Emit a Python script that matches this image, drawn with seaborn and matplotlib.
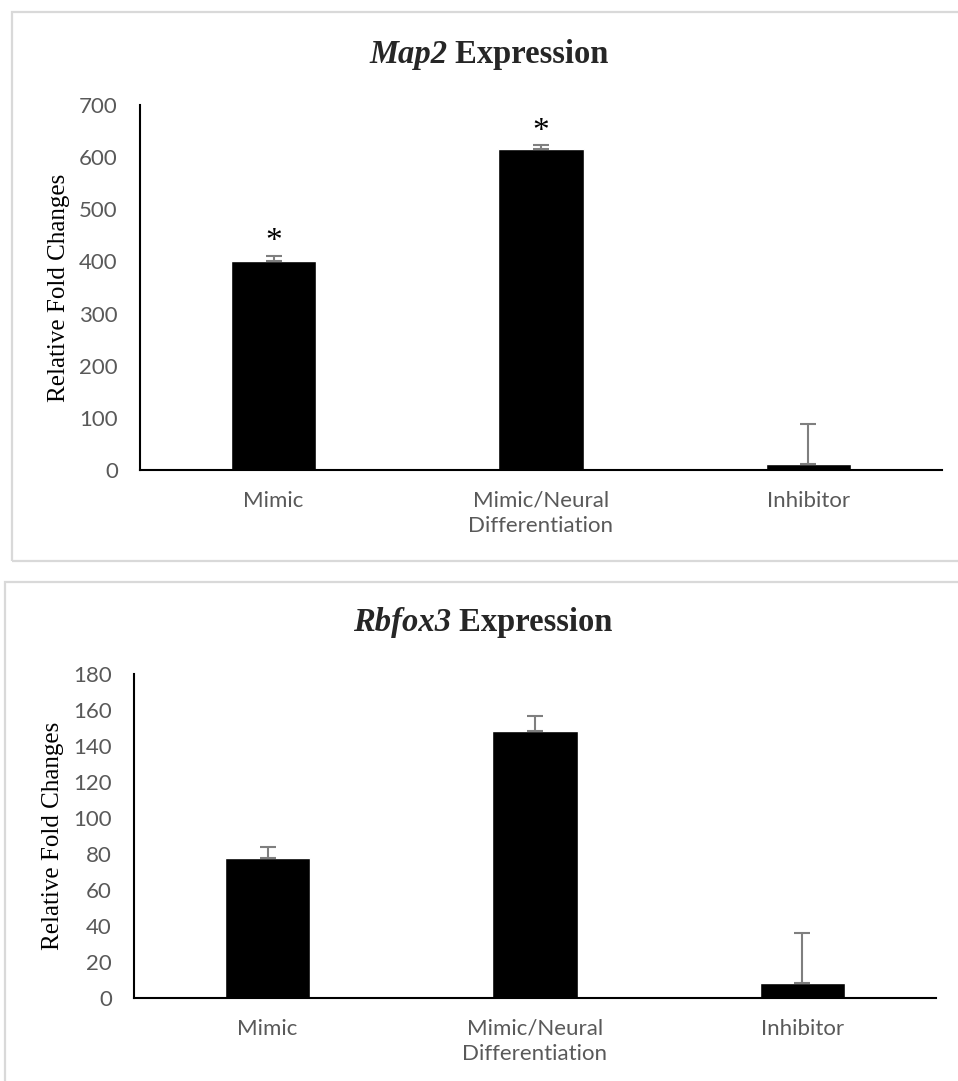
import numpy as np
import pandas as pd
import matplotlib
matplotlib.use("Agg")
import matplotlib.pyplot as plt
from matplotlib.patches import Rectangle
import seaborn as sns

# ---- data ----
categories = ["Mimic", "Mimic/Neural\nDifferentiation", "Inhibitor"]

map2_mean = [401, 616, 12]
map2_err = [10, 7, 77]
map2_sig = [True, True, False]
map2_ticks = [0, 100, 200, 300, 400, 500, 600, 700]

rbfox3_mean = [78, 148.5, 8.3]
rbfox3_err = [6, 8, 28]
rbfox3_sig = [False, False, False]
rbfox3_ticks = [0, 20, 40, 60, 80, 100, 120, 140, 160, 180]

sns.set_theme(style="white")
plt.rcParams["font.family"] = ["Lato", "DejaVu Sans"]

W, H, DPI = 958, 1081, 100
fig = plt.figure(figsize=(W / DPI, H / DPI), dpi=DPI)
fig.patch.set_facecolor("white")

SERIF = "Liberation Serif"
TICK_COLOR = "#595959"
ERR_COLOR = "#7f7f7f"


def px_box(left, top, right, bottom):
    return [left / W, 1 - bottom / H, (right - left) / W, (bottom - top) / H]


def draw_panel(rect_px, ax_px, gene, means, errs, sig, ticks, title_xy, ylabel_x):
    # chart-area frame
    l, t, r, b = rect_px
    fig.add_artist(Rectangle((l / W, 1 - b / H), (r - l) / W, (b - t) / H,
                             transform=fig.transFigure, fill=False,
                             edgecolor="#d9d9d9", linewidth=1.6))

    ax = fig.add_axes(px_box(*ax_px))
    df = pd.DataFrame({"group": categories, "value": means})
    sns.barplot(data=df, x="group", y="value", color="black", saturation=1,
                width=0.32, errorbar=None, ax=ax)
    xs = np.arange(len(categories))
    ax.errorbar(xs, means, yerr=[np.zeros(len(errs)), errs], fmt="none",
                ecolor=ERR_COLOR, elinewidth=1.5, capsize=5.5, capthick=1.5,
                zorder=3)
    for xi, m, e, s in zip(xs, means, errs, sig):
        if s:
            ax.annotate("*", (xi, m + e), xytext=(0, 10), textcoords="offset points",
                        ha="center", va="center", fontsize=24, family=SERIF,
                        color="black")

    ax.set_ylim(ticks[0], ticks[-1])
    ax.set_yticks(ticks)
    ax.set_xlim(-0.5, len(categories) - 0.5)
    for side in ("top", "right"):
        ax.spines[side].set_visible(False)
    for side in ("left", "bottom"):
        ax.spines[side].set_color("black")
        ax.spines[side].set_linewidth(1.5)
    ax.tick_params(axis="both", length=0, labelsize=16, labelcolor=TICK_COLOR)
    ax.tick_params(axis="y", pad=16)
    ax.tick_params(axis="x", pad=15)
    for lab in ax.get_xticklabels():
        lab.set_linespacing(1.3)
    ax.set_xlabel("")
    ax.set_ylabel("")
    ax.grid(False)

    fig.text(ylabel_x / W, 1 - (ax_px[1] + ax_px[3]) / 2 / H, "Relative Fold Changes",
             rotation=90, ha="center", va="center", family=SERIF, fontsize=18,
             color="black")

    # title: italic gene symbol followed by upright word
    cx, cy = title_xy
    t1 = fig.text(0, 1 - cy / H, gene, family=SERIF, fontsize=23.5,
                  fontweight="bold", fontstyle="italic", va="center", ha="left")
    t2 = fig.text(0, 1 - cy / H, " Expression", family=SERIF, fontsize=23.5,
                  fontweight="bold", va="center", ha="left")
    rend = fig.canvas.get_renderer()
    w1 = t1.get_window_extent(rend).width
    w2 = t2.get_window_extent(rend).width
    x0 = cx - (w1 + w2) / 2
    t1.set_x(x0 / W)
    t2.set_x((x0 + w1) / W)
    return ax


draw_panel((12, 12, 990, 561), (140, 105, 942, 470), "Map2",
           map2_mean, map2_err, map2_sig, map2_ticks, (489, 55), 59)
draw_panel((5, 582, 990, 1100), (134, 674, 936, 998), "Rbfox3",
           rbfox3_mean, rbfox3_err, rbfox3_sig, rbfox3_ticks, (483, 623), 53)

fig.savefig("out.png", dpi=DPI, facecolor="white")
